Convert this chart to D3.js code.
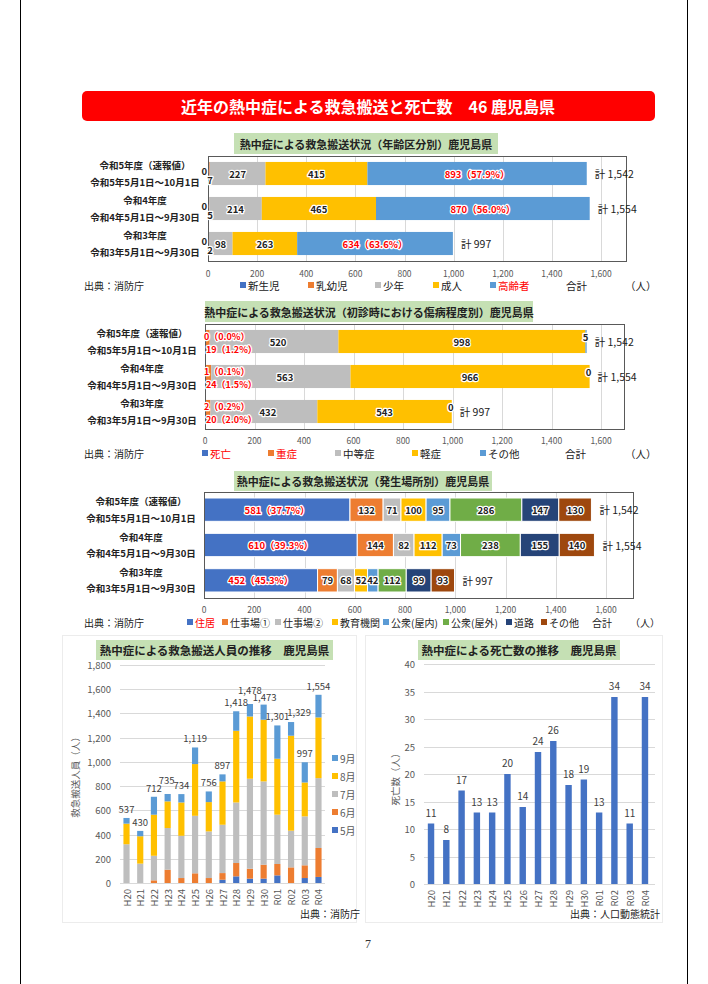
<!DOCTYPE html>
<html>
<head>
<meta charset="UTF-8" />
<title>近年の熱中症による救急搬送と死亡数 46 鹿児島県</title>
<style>
  body { margin: 0; background: #fff; }
  text { font-family: "Noto Sans CJK JP", "Noto Sans", sans-serif; }
</style>
</head>
<body>
<script src="https://cdn.jsdelivr.net/npm/d3@7"></script>
<script>
// ---------- data ----------
var rowLabels = [
  ["令和5年度（速報値）", "令和5年5月1日～10月1日"],
  ["令和4年度", "令和4年5月1日～9月30日"],
  ["令和3年度", "令和3年5月1日～9月30日"]
];
var rowTotals = [1542, 1554, 997];

// 年齢区分別
var ageKeys = ["新生児", "乳幼児", "少年", "成人", "高齢者"];
var ageNewborn = [0, 0, 0];
var ageInfant = [7, 5, 2];
var ageYouth = [227, 214, 98];
var ageAdult = [415, 465, 263];
var ageElderly = [893, 870, 634];
var elderlyPct = ["57.9%", "56.0%", "63.6%"];

// 傷病程度別
var sevKeys = ["死亡", "重症", "中等症", "軽症", "その他"];
var sevDeath = [0, 1, 2];
var sevSevere = [19, 24, 20];
var sevModerate = [520, 563, 432];
var sevMild = [998, 966, 543];
var sevOther = [5, 0, 0];
var deathPct = ["0.0%", "0.1%", "0.2%"];
var severePct = ["1.2%", "1.5%", "2.0%"];

// 発生場所別
var placeKeys = ["住居", "仕事場①", "仕事場②", "教育機関", "公衆(屋内)", "公衆(屋外)", "道路", "その他"];
var placeHome = [581, 610, 452];
var placeWork1 = [132, 144, 79];
var placeWork2 = [71, 82, 68];
var placeSchool = [100, 112, 52];
var placeIndoor = [95, 73, 42];
var placeOutdoor = [286, 238, 112];
var placeRoad = [147, 155, 99];
var placeOther = [130, 140, 93];
var homePct = ["37.7%", "39.3%", "45.3%"];

// 推移
var fiscalYears = ["H20", "H21", "H22", "H23", "H24", "H25", "H26", "H27", "H28", "H29", "H30", "R01", "R02", "R03", "R04"];
var monthKeys = ["5月", "6月", "7月", "8月", "9月"];
var may = [0, 0, 0, 0, 0, 0, 0, 27, 55, 36, 36, 63, 0, 41, 50];
var jun = [0, 0, 22, 110, 41, 80, 41, 55, 110, 82, 115, 94, 129, 105, 239];
var jul = [320, 160, 203, 344, 349, 475, 385, 399, 500, 743, 688, 407, 303, 404, 577];
var aug = [170, 226, 339, 220, 275, 427, 242, 358, 592, 514, 509, 462, 784, 280, 501];
var sep = [47, 44, 148, 61, 69, 137, 88, 58, 161, 103, 125, 275, 113, 167, 187];
var transportTotals = [537, 430, 712, 735, 734, 1119, 756, 897, 1418, 1478, 1473, 1301, 1329, 997, 1554];
var deaths = [11, 8, 17, 13, 13, 20, 14, 24, 26, 18, 19, 13, 34, 11, 34];

var BLUE = "#4472c4", ORANGE = "#ed7d31", GREY = "#bebebe", YELLOW = "#ffc000",
    LBLUE = "#5b9bd5", GREEN = "#70ad47", NAVY = "#264478", BROWN = "#9e480e";
var fmt = d3.format(",");

var svg = d3.select("body").append("svg")
  .attr("width", 708).attr("height", 984);

// page frame
svg.append("line").attr("x1", 20.5).attr("x2", 20.5).attr("y1", 0).attr("y2", 984).attr("stroke", "#000");
svg.append("line").attr("x1", 687.5).attr("x2", 687.5).attr("y1", 0).attr("y2", 984).attr("stroke", "#000");

// main title
svg.append("rect").attr("x", 82).attr("y", 91).attr("width", 573).attr("height", 30)
  .attr("rx", 5).attr("fill", "#ff0000");
svg.append("text").attr("x", 368).attr("y", 106)
  .attr("text-anchor", "middle").attr("dominant-baseline", "central")
  .attr("fill", "#fff").attr("font-size", 16).attr("font-weight", "bold")
  .text("近年の熱中症による救急搬送と死亡数　46 鹿児島県");

function halo(sel) {
  return sel.attr("stroke", "#fff").attr("stroke-width", 2.5)
    .attr("stroke-linejoin", "round").attr("paint-order", "stroke");
}

function titleBox(g, b, label) {
  g.append("rect").attr("x", b[0]).attr("y", b[1]).attr("width", b[2]).attr("height", b[3])
    .attr("fill", "#c5e0b4");
  g.append("text").attr("x", b[0] + b[2] / 2).attr("y", b[1] + b[3] / 2)
    .attr("text-anchor", "middle").attr("dominant-baseline", "central")
    .attr("font-size", b[4] || 11).attr("font-weight", "bold").attr("fill", "#222")
    .text(label);
}

// horizontal stacked bar chart
function hchart(o) {
  var g = svg.append("g");
  var x = d3.scaleLinear().domain([0, 1600]).range([o.x0, o.x1]);
  var y = d3.scaleBand().domain(d3.range(3)).range([o.top, o.bottom])
    .paddingInner(0.34).paddingOuter(0.17);

  titleBox(g, o.tb, o.title);

  g.selectAll("line.grid").data(x.ticks(8)).join("line")
    .attr("x1", function(d) { return Math.round(x(d)) + 0.5; })
    .attr("x2", function(d) { return Math.round(x(d)) + 0.5; })
    .attr("y1", o.top).attr("y2", o.bottom)
    .attr("stroke", "#d9d9d9");

  var series = d3.stack().keys(o.keys)(o.rows);
  g.selectAll("g.s").data(series).join("g")
    .attr("fill", function(d, i) { return o.colors[i]; })
    .selectAll("rect").data(function(d) { return d; }).join("rect")
    .attr("x", function(d) { return x(d[0]); })
    .attr("width", function(d) { return x(d[1]) - x(d[0]); })
    .attr("y", function(d, i) { return y(i); })
    .attr("height", y.bandwidth())
    .attr("stroke", o.sep ? "#fff" : "none").attr("stroke-width", 1);

  g.append("rect").attr("x", o.x0 + 0.5).attr("y", o.top + 0.5)
    .attr("width", o.fr - o.x0).attr("height", o.bottom - o.top)
    .attr("fill", "none").attr("stroke", "#595959");

  g.selectAll("text.tick").data(x.ticks(8)).join("text")
    .attr("x", function(d) { return x(d); }).attr("y", o.tickY)
    .attr("text-anchor", "middle").attr("dominant-baseline", "central")
    .attr("font-size", 8.5).attr("fill", "#595959")
    .text(fmt);

  // segment labels
  series.forEach(function(s, k) {
    s.forEach(function(d, i) {
      var lab = o.label(o.keys[k], i, d, x, y);
      if (!lab) return;
      halo(g.append("text"))
        .attr("x", lab.x).attr("y", lab.y)
        .attr("text-anchor", lab.anchor || "middle").attr("dominant-baseline", "central")
        .attr("font-size", lab.size || 9.5).attr("font-weight", "bold")
        .attr("fill", lab.color || "#222")
        .text(lab.text);
    });
  });

  // totals
  g.selectAll("text.total").data(rowTotals).join("text")
    .attr("x", function(d) { return x(d) + 8; })
    .attr("y", function(d, i) { return y(i) + y.bandwidth() / 2; })
    .attr("dominant-baseline", "central").attr("font-size", 10.5).attr("fill", "#222")
    .text(function(d) { return "計 " + fmt(d); });

  // row labels
  rowLabels.forEach(function(r, i) {
    var cy = y(i) + y.bandwidth() / 2;
    [-8.5, 8].forEach(function(dy, j) {
      g.append("text").attr("x", o.labelX).attr("y", cy + dy)
        .attr("text-anchor", "middle").attr("dominant-baseline", "central")
        .attr("font-size", 9.5).attr("font-weight", "bold").attr("fill", "#222")
        .text(r[j]);
    });
  });

  // source + legend
  g.append("text").attr("x", 84).attr("y", o.legendY).attr("dominant-baseline", "central")
    .attr("font-size", 10).attr("fill", "#222").text("出典：消防庁");
  o.legend.forEach(function(l) {
    if (l.color) {
      g.append("rect").attr("x", l.x).attr("y", o.legendY - 3).attr("width", 6).attr("height", 6)
        .attr("fill", l.color);
    }
    g.append("text").attr("x", l.color ? l.x + 8 : l.x).attr("y", o.legendY)
      .attr("dominant-baseline", "central").attr("font-size", o.legendSize || 10.5)
      .attr("fill", l.textColor || "#222").text(l.name);
  });
}

function rowsFrom(keys, arrays) {
  return rowTotals.map(function(t, i) {
    var r = {};
    keys.forEach(function(k, j) { r[k] = arrays[j][i]; });
    return r;
  });
}
function mid(d, x) { return (x(d[0]) + x(d[1])) / 2; }
function cy(y, i) { return y(i) + y.bandwidth() / 2; }

// ---- chart 1: 年齢区分別 ----
hchart({
  title: "熱中症による救急搬送状況（年齢区分別）鹿児島県",
  tb: [234, 133, 264, 21],
  x0: 208, x1: 601, fr: 626, top: 156, bottom: 261, tickY: 273, legendY: 285, labelX: 145,
  keys: ageKeys,
  rows: rowsFrom(ageKeys, [ageNewborn, ageInfant, ageYouth, ageAdult, ageElderly]),
  colors: [BLUE, ORANGE, GREY, YELLOW, LBLUE],
  label: function(k, i, d, x, y) {
    var v = d[1] - d[0];
    if (k === "新生児") return { text: v, x: x(0) - 1, y: cy(y, i) - 3, anchor: "end" };
    if (k === "乳幼児") return { text: v, x: x(0) + 2, y: cy(y, i) + 6 };
    if (k === "高齢者") return { text: v + "（" + elderlyPct[i] + "）", x: mid(d, x), y: cy(y, i), color: "#ff0000" };
    return { text: v, x: mid(d, x), y: cy(y, i) };
  },
  legend: [
    { name: "新生児", x: 240, color: BLUE },
    { name: "乳幼児", x: 308, color: ORANGE },
    { name: "少年", x: 375, color: GREY },
    { name: "成人", x: 433, color: YELLOW },
    { name: "高齢者", x: 490, color: LBLUE, textColor: "#ff0000" },
    { name: "合計", x: 566 },
    { name: "（人）", x: 625 }
  ]
});

// ---- chart 2: 傷病程度別 ----
hchart({
  title: "熱中症による救急搬送状況（初診時における傷病程度別）鹿児島県",
  tb: [205, 301, 328, 21],
  x0: 205, x1: 601, fr: 624, top: 324, bottom: 429, tickY: 440, legendY: 453, labelX: 142,
  keys: sevKeys,
  rows: rowsFrom(sevKeys, [sevDeath, sevSevere, sevModerate, sevMild, sevOther]),
  colors: [BLUE, ORANGE, GREY, YELLOW, LBLUE],
  label: function(k, i, d, x, y) {
    var v = d[1] - d[0];
    if (k === "死亡") return { text: v + "（" + deathPct[i] + "）", x: x(0) - 1, y: cy(y, i) - 5, anchor: "start", color: "#ff0000", size: 9 };
    if (k === "重症") return { text: v + "（" + severePct[i] + "）", x: x(0) + 1, y: cy(y, i) + 8, anchor: "start", color: "#ff0000", size: 9 };
    if (k === "その他") return { text: v, x: x(d[1]) - 1, y: cy(y, i) - 5 };
    if (k === "中等症") return { text: v, x: mid(d, x) + 4, y: cy(y, i) };
    return { text: v, x: mid(d, x), y: cy(y, i) };
  },
  legend: [
    { name: "死亡", x: 202, color: BLUE, textColor: "#ff0000" },
    { name: "重症", x: 268, color: ORANGE, textColor: "#ff0000" },
    { name: "中等症", x: 335, color: GREY },
    { name: "軽症", x: 412, color: YELLOW },
    { name: "その他", x: 480, color: LBLUE },
    { name: "合計", x: 565 },
    { name: "（人）", x: 625 }
  ]
});

// ---- chart 3: 発生場所別 ----
hchart({
  title: "熱中症による救急搬送状況（発生場所別）鹿児島県",
  tb: [234, 471, 258, 20],
  x0: 204, x1: 606, fr: 633, top: 492, bottom: 598, tickY: 609, legendY: 622, labelX: 141, sep: true,
  legendSize: 10,
  keys: placeKeys,
  rows: rowsFrom(placeKeys, [placeHome, placeWork1, placeWork2, placeSchool, placeIndoor, placeOutdoor, placeRoad, placeOther]),
  colors: [BLUE, ORANGE, GREY, YELLOW, LBLUE, GREEN, NAVY, BROWN],
  label: function(k, i, d, x, y) {
    var v = d[1] - d[0];
    if (k === "住居") return { text: v + "（" + homePct[i] + "）", x: mid(d, x), y: cy(y, i), color: "#ff0000" };
    return { text: v, x: mid(d, x), y: cy(y, i) };
  },
  legend: [
    { name: "住居", x: 187, color: BLUE, textColor: "#ff0000" },
    { name: "仕事場①", x: 222, color: ORANGE },
    { name: "仕事場②", x: 275, color: GREY },
    { name: "教育機関", x: 332, color: YELLOW },
    { name: "公衆(屋内)", x: 383, color: LBLUE },
    { name: "公衆(屋外)", x: 443, color: GREEN },
    { name: "道路", x: 506, color: NAVY },
    { name: "その他", x: 541, color: BROWN },
    { name: "合計", x: 592 },
    { name: "（人）", x: 630 }
  ]
});

// ---------- bottom charts ----------
function panelBase(g, o) {
  g.append("rect").attr("x", o.panel[0] + 0.5).attr("y", o.panel[1] + 0.5)
    .attr("width", o.panel[2]).attr("height", o.panel[3])
    .attr("fill", "none").attr("stroke", "#ececec");
  titleBox(g, o.tb, o.title);
  g.selectAll("line.grid").data(o.y.ticks(o.nTicks)).join("line")
    .attr("x1", o.gx[0]).attr("x2", o.gx[1])
    .attr("y1", function(d) { return Math.round(o.y(d)) + 0.5; })
    .attr("y2", function(d) { return Math.round(o.y(d)) + 0.5; })
    .attr("stroke", "#d9d9d9");
  g.selectAll("text.yt").data(o.y.ticks(o.nTicks)).join("text")
    .attr("x", o.ylx).attr("y", function(d) { return o.y(d); })
    .attr("text-anchor", "end").attr("dominant-baseline", "central")
    .attr("font-size", 9.5).attr("fill", "#595959").text(fmt);
  g.selectAll("text.xt").data(fiscalYears).join("text")
    .attr("transform", function(d) {
      return "translate(" + (o.x(d) + o.x.bandwidth() / 2) + "," + (o.y(0) + 6) + ") rotate(-90)";
    })
    .attr("text-anchor", "end").attr("dominant-baseline", "central")
    .attr("font-size", 9.5).attr("fill", "#595959").text(function(d) { return d; });
  g.append("text")
    .attr("transform", "translate(" + o.ytitle[0] + "," + o.ytitle[1] + ") rotate(-90)")
    .attr("text-anchor", "middle").attr("dominant-baseline", "central")
    .attr("font-size", 9.5).attr("fill", "#595959").text(o.yLabel);
  g.append("text").attr("x", o.src[0]).attr("y", o.src[1]).attr("dominant-baseline", "central")
    .attr("font-size", 10).attr("fill", "#222").text(o.srcText);
}

// left: 救急搬送人員の推移
(function() {
  var g = svg.append("g");
  var x = d3.scaleBand().domain(fiscalYears).range([120, 325]).paddingInner(0.55).paddingOuter(0.25);
  var y = d3.scaleLinear().domain([0, 1800]).range([883, 665]);
  panelBase(g, {
    panel: [62, 635, 294, 287], tb: [96, 640, 237, 20, 11.5],
    title: "熱中症による救急搬送人員の推移　鹿児島県",
    x: x, y: y, nTicks: 9, gx: [120, 325], ylx: 111,
    ytitle: [75, 775], yLabel: "救急搬送人員（人）",
    src: [300, 913], srcText: "出典：消防庁"
  });
  var rows = fiscalYears.map(function(f, i) {
    return { "5月": may[i], "6月": jun[i], "7月": jul[i], "8月": aug[i], "9月": sep[i] };
  });
  var colors = [BLUE, ORANGE, GREY, YELLOW, LBLUE];
  var series = d3.stack().keys(monthKeys)(rows);
  g.selectAll("g.s").data(series).join("g")
    .attr("fill", function(d, i) { return colors[i]; })
    .selectAll("rect").data(function(d) { return d; }).join("rect")
    .attr("x", function(d, i) { return x(fiscalYears[i]); })
    .attr("width", x.bandwidth())
    .attr("y", function(d) { return y(d[1]); })
    .attr("height", function(d) { return y(d[0]) - y(d[1]); });
  // crowded labels are nudged the way the original chart does it
  var nudge = { "H23": [-1, -5], "H29": [0, -5], "H30": [1, 1], "R02": [8, -1] };
  g.selectAll("text.v").data(transportTotals).join("text")
    .attr("x", function(d, i) {
      var n = nudge[fiscalYears[i]] || [0, 0];
      return x(fiscalYears[i]) + x.bandwidth() / 2 + n[0];
    })
    .attr("y", function(d, i) {
      var n = nudge[fiscalYears[i]] || [0, 0];
      return y(d) - 5 + n[1];
    })
    .attr("text-anchor", "middle").attr("font-size", 9.5).attr("fill", "#404040")
    .text(fmt);
  // legend (9月 on top)
  monthKeys.slice().reverse().forEach(function(m, j) {
    var ly = 758 + j * 18;
    g.append("rect").attr("x", 332).attr("y", ly - 3).attr("width", 6).attr("height", 6)
      .attr("fill", colors[monthKeys.indexOf(m)]);
    g.append("text").attr("x", 340).attr("y", ly).attr("dominant-baseline", "central")
      .attr("font-size", 10).attr("fill", "#595959").text(m);
  });
})();

// right: 死亡数の推移
(function() {
  var g = svg.append("g");
  var x = d3.scaleBand().domain(fiscalYears).range([424, 652]).paddingInner(0.58).paddingOuter(0.25);
  var y = d3.scaleLinear().domain([0, 40]).range([884, 664]);
  panelBase(g, {
    panel: [365, 635, 297, 287], tb: [418, 640, 202, 20, 11.5],
    title: "熱中症による死亡数の推移　鹿児島県",
    x: x, y: y, nTicks: 8, gx: [424, 655], ylx: 415,
    ytitle: [395, 777], yLabel: "死亡数（人）",
    src: [570, 913], srcText: "出典：人口動態統計"
  });
  g.selectAll("rect.bar").data(deaths).join("rect")
    .attr("x", function(d, i) { return x(fiscalYears[i]); })
    .attr("width", x.bandwidth())
    .attr("y", function(d) { return y(d); })
    .attr("height", function(d) { return y(0) - y(d); })
    .attr("fill", BLUE);
  g.selectAll("text.v").data(deaths).join("text")
    .attr("x", function(d, i) { return x(fiscalYears[i]) + x.bandwidth() / 2; })
    .attr("y", function(d) { return y(d) - 7; })
    .attr("text-anchor", "middle").attr("font-size", 10).attr("fill", "#404040")
    .text(function(d) { return d; });
})();

// page number
svg.append("text").attr("x", 368).attr("y", 944).attr("text-anchor", "middle")
  .attr("dominant-baseline", "central").attr("font-size", 12)
  .style("font-family", "Liberation Serif, serif")
  .attr("fill", "#333").text("7");
</script>
</body>
</html>
